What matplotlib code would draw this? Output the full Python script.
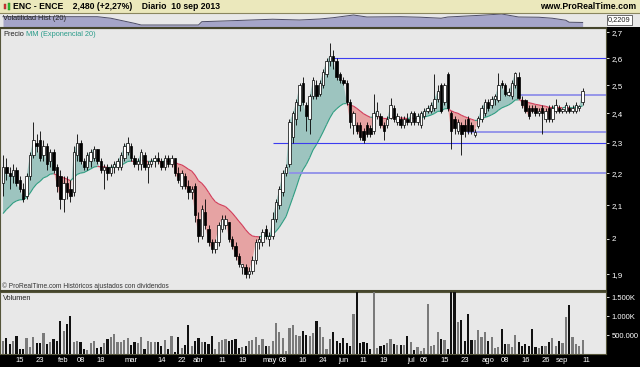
import matplotlib
matplotlib.use('Agg')
import matplotlib.pyplot as plt
import numpy as np
import pandas as pd
from matplotlib.lines import Line2D
from matplotlib.collections import LineCollection

plt.rcParams['font.family'] = ['Liberation Sans', 'DejaVu Sans']

# ---------------- data ----------------
opens = [2.17,2.22,2.20,2.19,2.21,2.18,2.15,2.13,2.19,2.26,2.30,2.31,2.26,2.29,2.24,2.27,2.22,2.19,2.12,2.17,
         2.15,2.14,2.26,2.30,2.24,2.22,2.24,2.25,2.28,2.24,2.21,2.22,2.20,2.22,2.22,2.22,2.25,2.27,2.29,2.25,
         2.23,2.23,2.26,2.22,2.23,2.24,2.25,2.24,2.22,2.25,2.23,2.25,2.20,2.16,2.19,2.16,2.14,2.16,2.06,2.01,
         2.08,2.03,1.99,1.97,1.99,2.03,2.04,2.05,2.00,1.98,1.95,1.92,1.92,1.90,1.91,1.94,1.99,1.99,2.03,2.00,
         2.01,2.06,2.10,2.14,2.20,2.23,2.32,2.38,2.43,2.51,2.43,2.38,2.46,2.50,2.47,2.50,2.54,2.59,2.61,2.59,
         2.54,2.52,2.51,2.44,2.36,2.36,2.36,2.34,2.36,2.35,2.34,2.39,2.39,2.36,2.36,2.385,2.42,2.37,2.38,2.36,
         2.38,2.37,2.40,2.37,2.36,2.39,2.41,2.41,2.42,2.45,2.50,2.44,2.54,2.40,2.38,2.34,2.36,2.36,2.38,2.36,
         2.326,2.355,2.38,2.40,2.44,2.43,2.45,2.447,2.51,2.50,2.465,2.46,2.50,2.53,2.447,2.447,2.42,2.42,2.42,2.40,
         2.42,2.38,2.42,2.38,2.41,2.42,2.41,2.41,2.42,2.41,2.41,2.42,2.44]
highs = [2.26,2.25,2.22,2.23,2.22,2.19,2.17,2.20,2.27,2.37,2.33,2.34,2.31,2.30,2.28,2.28,2.23,2.21,2.19,2.19,
         2.18,2.29,2.33,2.31,2.25,2.27,2.28,2.29,2.28,2.25,2.23,2.23,2.23,2.24,2.25,2.27,2.30,2.32,2.30,2.26,
         2.25,2.28,2.27,2.24,2.25,2.26,2.27,2.25,2.26,2.26,2.26,2.25,2.22,2.21,2.20,2.18,2.16,2.17,2.08,2.10,
         2.12,2.04,2.00,2.00,2.05,2.07,2.07,2.05,2.01,1.99,1.96,1.93,1.93,1.92,1.95,2.00,2.01,2.03,2.04,2.02,
         2.08,2.12,2.16,2.21,2.23,2.38,2.41,2.45,2.51,2.53,2.44,2.47,2.53,2.52,2.52,2.56,2.60,2.66,2.63,2.60,
         2.55,2.53,2.52,2.45,2.41,2.37,2.37,2.35,2.37,2.36,2.47,2.44,2.40,2.37,2.39,2.455,2.43,2.40,2.39,2.39,
         2.40,2.41,2.41,2.40,2.41,2.42,2.43,2.44,2.54,2.50,2.51,2.51,2.55,2.41,2.39,2.38,2.37,2.38,2.39,2.37,
         2.345,2.39,2.43,2.45,2.45,2.46,2.47,2.545,2.52,2.51,2.49,2.52,2.55,2.55,2.46,2.45,2.43,2.43,2.43,2.42,
         2.43,2.42,2.43,2.43,2.45,2.43,2.42,2.44,2.43,2.43,2.44,2.43,2.49]
lows = [2.13,2.18,2.15,2.17,2.16,2.14,2.11,2.12,2.18,2.25,2.27,2.24,2.24,2.21,2.22,2.20,2.14,2.09,2.08,2.12,
        2.11,2.13,2.24,2.23,2.21,2.21,2.22,2.24,2.23,2.20,2.15,2.18,2.19,2.20,2.21,2.21,2.24,2.26,2.24,2.22,
        2.21,2.21,2.21,2.17,2.22,2.22,2.23,2.21,2.21,2.22,2.22,2.19,2.17,2.15,2.15,2.12,2.12,2.05,1.99,2.00,
        2.03,1.98,1.96,1.96,1.98,2.02,2.03,1.99,1.97,1.94,1.92,1.90,1.89,1.89,1.90,1.93,1.97,1.98,2.00,1.98,
        2.00,2.05,2.09,2.13,2.19,2.22,2.30,2.36,2.41,2.43,2.34,2.33,2.45,2.45,2.46,2.49,2.53,2.57,2.56,2.52,
        2.51,2.50,2.43,2.35,2.33,2.33,2.31,2.30,2.32,2.32,2.33,2.38,2.35,2.31,2.35,2.38,2.37,2.36,2.35,2.35,
        2.36,2.36,2.36,2.36,2.35,2.38,2.40,2.40,2.41,2.44,2.40,2.43,2.41,2.28,2.33,2.33,2.26,2.32,2.33,2.33,
        2.32,2.35,2.37,2.39,2.41,2.42,2.43,2.44,2.49,2.46,2.46,2.45,2.49,2.45,2.42,2.40,2.38,2.40,2.39,2.39,
        2.33,2.37,2.37,2.37,2.40,2.40,2.40,2.40,2.40,2.40,2.40,2.41,2.43]
closes = [2.22,2.20,2.19,2.21,2.17,2.15,2.12,2.19,2.26,2.31,2.29,2.25,2.29,2.23,2.27,2.21,2.16,2.12,2.17,2.14,
          2.13,2.27,2.30,2.24,2.22,2.26,2.27,2.28,2.24,2.21,2.22,2.20,2.22,2.23,2.24,2.26,2.29,2.30,2.25,2.23,
          2.24,2.27,2.22,2.23,2.24,2.25,2.24,2.22,2.25,2.23,2.25,2.20,2.18,2.20,2.16,2.14,2.15,2.07,2.01,2.09,
          2.04,1.99,1.97,1.99,2.04,2.06,2.06,2.00,1.98,1.95,1.93,1.93,1.90,1.91,1.94,1.99,2.00,2.02,2.01,2.01,
          2.06,2.11,2.15,2.20,2.22,2.37,2.40,2.44,2.50,2.44,2.39,2.46,2.52,2.46,2.51,2.55,2.59,2.61,2.59,2.53,
          2.52,2.51,2.44,2.37,2.40,2.34,2.32,2.31,2.33,2.33,2.40,2.41,2.36,2.34,2.38,2.43,2.38,2.39,2.36,2.38,
          2.37,2.40,2.37,2.39,2.40,2.41,2.42,2.43,2.45,2.48,2.41,2.50,2.42,2.34,2.35,2.37,2.33,2.34,2.34,2.34,
          2.336,2.385,2.42,2.44,2.42,2.45,2.46,2.50,2.50,2.47,2.477,2.51,2.545,2.455,2.43,2.41,2.39,2.41,2.40,2.41,
          2.40,2.41,2.38,2.42,2.43,2.41,2.415,2.43,2.41,2.42,2.43,2.425,2.48]
volumes = [351e3,412e3,263e3,351e3,482e3,132e3,132e3,412e3,175e3,456e3,281e3,298e3,544e3,263e3,307e3,386e3,351e3,868e3,605e3,789e3,
           1000e3,325e3,351e3,325e3,123e3,105e3,298e3,351e3,158e3,193e3,298e3,386e3,439e3,526e3,325e3,307e3,368e3,412e3,237e3,325e3,
           298e3,439e3,123e3,333e3,316e3,307e3,316e3,211e3,368e3,132e3,474e3,61e3,439e3,149e3,228e3,763e3,211e3,342e3,412e3,325e3,
           316e3,263e3,474e3,132e3,325e3,368e3,386e3,351e3,368e3,386e3,149e3,175e3,211e3,342e3,368e3,456e3,237e3,386e3,219e3,219e3,
           333e3,807e3,588e3,421e3,88e3,675e3,763e3,500e3,474e3,605e3,500e3,482e3,561e3,877e3,720e3,456e3,123e3,386e3,588e3,342e3,
           298e3,412e3,298e3,211e3,1050e3,1750e3,298e3,325e3,281e3,132e3,1750e3,167e3,211e3,237e3,281e3,386e3,263e3,246e3,237e3,237e3,
           482e3,307e3,105e3,175e3,79e3,149e3,1316e3,211e3,237e3,588e3,404e3,368e3,132e3,1750e3,1750e3,851e3,895e3,342e3,1050e3,368e3,
           360e3,632e3,439e3,588e3,351e3,439e3,149e3,175e3,649e3,254e3,254e3,175e3,500e3,325e3,211e3,263e3,219e3,658e3,193e3,158e3,
           211e3,211e3,316e3,412e3,211e3,351e3,298e3,981e3,1290e3,447e3,263e3,218e3,368e3]

# historical volatility (20) read at a few trading-day positions
hv_idx = [0,19,28,32,39,41,58,59,68,80,88,94,98,104,108,118,124,130,132,142,148,153,159,163,167,168,172]
hv_val = [0.296,0.296,0.296,0.276,0.210,0.188,0.188,0.231,0.244,0.263,0.253,0.266,0.283,0.318,0.292,0.296,
          0.289,0.276,0.292,0.315,0.331,0.292,0.289,0.276,0.250,0.224,0.2209]

ema_start = 2.06
ema_period = 20

# drawn support/resistance lines: level and starting trading-day index
level_values = [2.6, 2.466, 2.336, 2.3, 2.2]
level_starts = [97.5, 153.5, 137.7, 80.0, 85.0]

price_ticks = [2.7, 2.6, 2.5, 2.4, 2.3, 2.2, 2.1, 2.0, 1.9]
price_tick_labels = ['2,7', '2,6', '2,5', '2,4', '2,3', '2,2', '2,1', '2', '1,9']
vol_ticks = [500e3, 1000e3, 1500e3]
vol_tick_labels = ['500.000', '1.000K', '1.500K']
date_label_dates = ['2013-01-15','2013-01-23','2013-02-01','2013-02-08','2013-02-18','2013-03-01','2013-03-14',
                    '2013-03-22','2013-04-02','2013-04-11','2013-04-19','2013-05-02','2013-05-08','2013-05-16',
                    '2013-05-24','2013-06-03','2013-06-11','2013-06-19','2013-07-01','2013-07-05','2013-07-15',
                    '2013-07-23','2013-08-01','2013-08-08','2013-08-16','2013-08-26','2013-09-02','2013-09-11']
date_label_texts = ['15','23','feb','08','18','mar','14','22','abr','11','19','may','08','16','24','jun','11','19',
                    'jul','05','15','23','ago','08','16','26','sep','11']

# ---------------- derived ----------------
holidays = pd.to_datetime(['2013-03-29', '2013-04-01', '2013-05-01'])
days = pd.bdate_range('2013-01-08', '2013-09-10')
days = days[~days.isin(holidays)]
n = len(days)
x = np.arange(n)
o = np.array(opens); h = np.array(highs); l = np.array(lows); c = np.array(closes)
v = np.array(volumes)

alpha = 2.0 / (ema_period + 1)
ema = np.empty(n)
prev = ema_start
for i in range(n):
    prev = prev + alpha * (c[i] - prev)
    ema[i] = prev

day_index = {d.strftime('%Y-%m-%d'): i for i, d in enumerate(days)}
label_pos = [day_index.get(d, n) for d in date_label_dates]

# ---------------- figure ----------------
W, H = 640, 367
fig = plt.figure(figsize=(W / 100, H / 100), dpi=100, facecolor='black')

def ax_px(x0, y0, x1, y1, **kw):
    return fig.add_axes([x0 / W, 1 - y1 / H, (x1 - x0) / W, (y1 - y0) / H], **kw)

PX_PER_DAY = 3.37
X0PX = 3.0
def px_to_idx(px):
    return (px - X0PX) / PX_PER_DAY

panel_bg = '#e8e8e8'

# header
axh = ax_px(0, 0, 640, 12.5)
axh.set_facecolor('#ebe8bc')
axh.set_xlim(0, 640); axh.set_ylim(12.5, 0)
axh.set_xticks([]); axh.set_yticks([])
for s in axh.spines.values():
    s.set_visible(False)
axh.add_patch(plt.Rectangle((3.5, 3.5), 2.6, 5.5, facecolor='#e03030', edgecolor='#803030', lw=0.3))
axh.add_patch(plt.Rectangle((7.5, 2.5), 2.6, 7.0, facecolor='#30c030', edgecolor='#207020', lw=0.3))
axh.text(13, 6.5, 'ENC - ENCE    2,480 (+2,27%)    Diario  10 sep 2013', fontsize=6.2,
         fontweight='bold', va='center', ha='left', color='black')
axh.text(636, 6.5, 'www.ProRealTime.com', fontsize=6.2, fontweight='bold', va='center', ha='right', color='black')

# volatility panel
axv = ax_px(0, 13, 640, 27)
axv.set_facecolor(panel_bg)
axv.set_xlim(px_to_idx(0), px_to_idx(640))
vlo, vhi = 0.162, 0.344
axv.set_ylim(vlo, vhi)
axv.fill_between(hv_idx, hv_val, vlo, color='#a5a5c8', lw=0)
axv.plot(hv_idx, hv_val, color='#4c4c66', lw=0.7)
axv.set_xticks([]); axv.set_yticks([])
for s in axv.spines.values():
    s.set_visible(False)
fig.text(3 / W, 1 - 18 / H, 'Volatilidad Hist (20)', fontsize=5.3, color='#222222', va='center', ha='left')
fig.text(608 / W, 1 - 20 / H, '0,2209', fontsize=5.3, color='#222222', va='center', ha='left',
         bbox=dict(boxstyle='square,pad=0.2', facecolor='white', edgecolor='#333333', lw=0.5))

# price panel
axp = ax_px(0, 28, 606, 291)
axp.set_facecolor(panel_bg)
axp.set_yscale('log')
axp.set_xlim(px_to_idx(0), px_to_idx(606))
axp.set_ylim(1.8545, 2.7169)

teal_fill = '#9dc4bf'
red_fill = '#e6a3a3'
axp.fill_between(x, c, ema, where=c >= ema, interpolate=True, color=teal_fill, lw=0, zorder=1)
axp.fill_between(x, c, ema, where=c < ema, interpolate=True, color=red_fill, lw=0, zorder=1)
segs = [[(x[i], ema[i]), (x[i + 1], ema[i + 1])] for i in range(n - 1)]
cols = ['#2f9e82' if c[i + 1] >= ema[i + 1] else '#d23c5a' for i in range(n - 1)]
axp.add_collection(LineCollection(segs, colors=cols, linewidths=0.8, zorder=2))

for lv, st in zip(level_values, level_starts):
    thin = lv in (2.6, 2.3)
    axp.hlines(lv, st, px_to_idx(606), colors='#3c3cf0' if thin else '#8f8fe8',
               linewidth=0.8 if thin else 1.3, zorder=3)

up = c >= o
axp.vlines(x, l, h, color='black', lw=0.6, zorder=4)
body_lo = np.minimum(o, c)
body_h = np.maximum(np.abs(c - o), 0.002)
axp.bar(x, body_h, bottom=body_lo, width=0.72, color=np.where(up, 'white', 'black'),
        edgecolor='black', linewidth=0.5, zorder=5)

axp.yaxis.tick_right()
axp.set_yticks(price_ticks)
axp.set_yticklabels(price_tick_labels)
axp.yaxis.set_minor_locator(matplotlib.ticker.NullLocator())
axp.tick_params(axis='y', colors='white', labelsize=5.8, length=2.5, width=0.6, pad=1.5)
axp.set_xticks([])
for s in axp.spines.values():
    s.set_color('#55553a'); s.set_linewidth(0.8)
fig.text(3 / W, 1 - 34 / H, 'Precio', fontsize=5.3, color='#222222', va='center', ha='left')
fig.text(25.5 / W, 1 - 34 / H, 'MM (Exponencial 20)', fontsize=5.3, color='#2a9c8a', va='center', ha='left')
fig.text(2 / W, 1 - 286 / H, '\u00a9 ProRealTime.com Hist\u00f3ricos ajustados con dividendos', fontsize=4.8,
         color='#333333', va='center', ha='left')

# volume panel
axq = ax_px(0, 292, 606, 354)
axq.set_facecolor(panel_bg)
axq.set_xlim(px_to_idx(0), px_to_idx(606))
axq.set_ylim(0, 1.632e6)
axq.bar(x, v, width=0.65, color=np.where(up, '#7a7a7a', '#111111'), lw=0, zorder=3)
axq.yaxis.tick_right()
axq.set_yticks(vol_ticks)
axq.set_yticklabels(vol_tick_labels)
axq.tick_params(axis='y', colors='white', labelsize=5.5, length=2.5, width=0.6, pad=1.5)
axq.set_xticks(label_pos)
axq.set_xticklabels(date_label_texts)
axq.tick_params(axis='x', colors='white', labelsize=5.5, length=0, pad=1.8)
for s in axq.spines.values():
    s.set_color('#55553a'); s.set_linewidth(0.8)
fig.text(3 / W, 1 - 298 / H, 'Volumen', fontsize=5.3, color='#222222', va='center', ha='left')

# separators
def sep(y, x0=0, x1=640, lw=1.5, color='#45452c'):
    fig.add_artist(Line2D([x0 / W, x1 / W], [1 - y / H, 1 - y / H], color=color, lw=lw))
sep(12.8, lw=0.8, color='#8a8660')
sep(27.5, 0, 606, lw=1.5)
sep(291.3, 0, 606, lw=1.5)

fig.savefig('out.png', dpi=100, facecolor='black')
